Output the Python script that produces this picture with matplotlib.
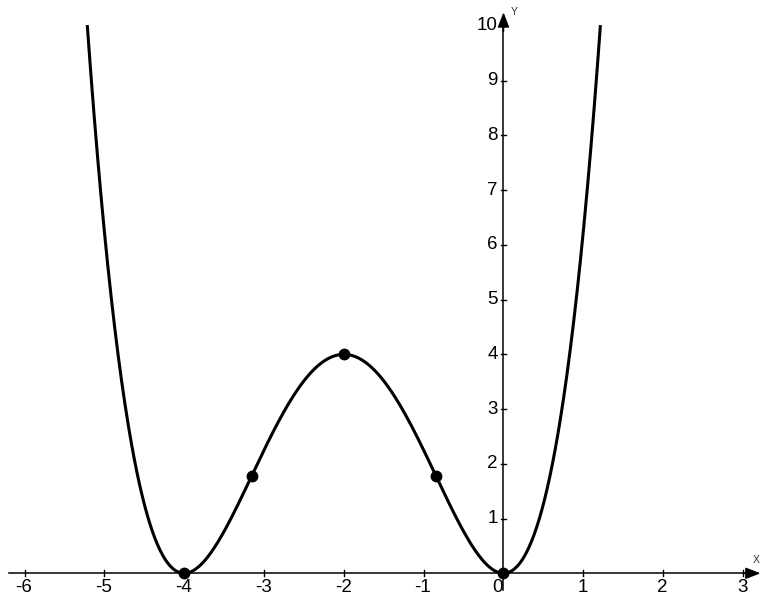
import numpy as np
import matplotlib
matplotlib.use("Agg")
import matplotlib.pyplot as plt

# y = 0.25 x^4 + 2 x^3 + 4 x^2  (curve coefficients, highest power first)
poly_coef = [0.25, 2.0, 4.0, 0.0, 0.0]
x_start, x_end = -5.214, 1.214

# marked points on the curve
pt_x = [-4.0, -3.155, -2.0, -0.845, 0.0]
pt_y = [0.0, 1.78, 4.0, 1.78, 0.0]

x_ticks = [-6, -5, -4, -3, -2, -1, 0, 1, 2, 3]
y_ticks = [1, 2, 3, 4, 5, 6, 7, 8, 9, 10]

plt.rcParams['font.family'] = ['Liberation Sans', 'DejaVu Sans']

fig = plt.figure(figsize=(7.71, 6.07), dpi=100)
ax = fig.add_axes([0, 0, 1, 1])
ax.set_xlim(-6.307, 3.351)
ax.set_ylim(-0.616, 10.475)
ax.axis('off')

# axes with arrows
ax.plot([-6.19, 3.05], [0, 0], color='black', lw=1.1)
ax.annotate('', xy=(3.22, 0), xytext=(3.0, 0),
            arrowprops=dict(arrowstyle='-|>,head_length=0.9,head_width=0.35',
                            color='black', lw=1.1, shrinkA=0, shrinkB=0))
ax.plot([0, 0], [-0.3, 10.0], color='black', lw=1.1)
ax.annotate('', xy=(0, 10.25), xytext=(0, 9.9),
            arrowprops=dict(arrowstyle='-|>,head_length=0.9,head_width=0.35',
                            color='black', lw=1.1, shrinkA=0, shrinkB=0))
ax.text(3.16, 0.15, 'X', fontsize=7.5, ha='center', va='bottom', color='#333333')
ax.text(0.09, 10.25, 'Y', fontsize=7.5, ha='left', va='center', color='#333333')

# ticks and labels
for t in x_ticks:
    ax.plot([t, t], [-0.055, 0.055], color='black', lw=1.0)
    if t == 0:
        ax.annotate('0', xy=(t, 0), xytext=(-4.5, -4), textcoords='offset points',
                    ha='center', va='top', fontsize=13.5)
    else:
        ax.annotate(str(t), xy=(t, 0), xytext=(-0.5, -4), textcoords='offset points',
                    ha='center', va='top', fontsize=13.5)
for t in y_ticks:
    ax.annotate(str(t), xy=(0, t), xytext=(-4.0, 0.0), textcoords='offset points',
                ha='right', va='center', fontsize=13.5)
    ax.plot([-0.035, 0.035], [t, t], color='black', lw=1.0)

# curve
xs = np.linspace(x_start, x_end, 600)
ax.plot(xs, np.polyval(poly_coef, xs), color='black', lw=2.2, solid_capstyle='butt')
ax.plot(pt_x, pt_y, 'o', color='black', markersize=7.5)

fig.savefig('out.png', dpi=100)
